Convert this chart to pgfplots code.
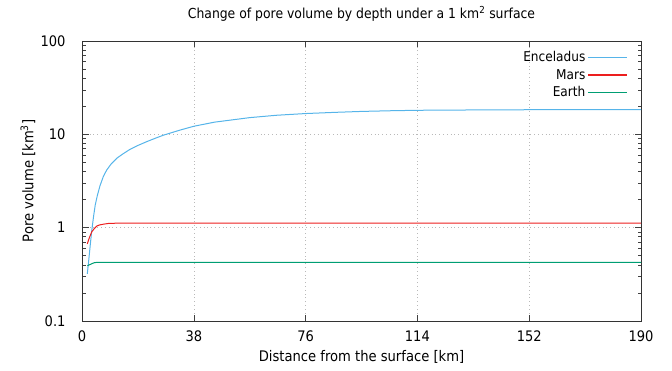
\documentclass[border=0pt]{standalone}
\usepackage{pgfplots}
\pgfplotsset{compat=1.18}
\usepackage{fontspec}
\setmainfont{DejaVu Sans Condensed}
\definecolor{cEnc}{RGB}{86,180,233}
\definecolor{cMars}{RGB}{236,30,30}
\definecolor{cEarth}{RGB}{0,158,115}
\begin{document}
\fontsize{13bp}{15bp}\selectfont
\begin{tikzpicture}
\useasboundingbox (0,0) rectangle (672bp,371bp);
\begin{axis}[
  at={(82bp,50bp)}, anchor=south west,
  scale only axis, width=559bp, height=280bp,
  ymode=log, xmin=0, xmax=190, ymin=0.1, ymax=100,
  xtick={0,38,76,114,152,190},
  ytick={0.1,1,10,100},
  yticklabels={0.1,1,10,100},
  /pgf/number format/assume math mode=true,
  major tick length=6.5bp, minor tick length=3.5bp,
  tick style={black!75, line width=0.6bp},
  axis line style={black!80, line width=0.8bp},
  grid=major,
  major grid style={gray!55, line width=0.6bp, dash pattern=on 0.8bp off 3bp},
  tick label style={font=\fontsize{14.5bp}{16bp}\selectfont},
  label style={font=\fontsize{14.6bp}{17bp}\selectfont},
  xticklabel style={yshift=-5bp},
  yticklabel style={xshift=-12bp},
  title={Change of pore volume by depth under a 1 km\textsuperscript{2} surface},
  title style={at={(axis description cs:0.5,1.075)}, anchor=center, font=\fontsize{13.8bp}{15bp}\selectfont},
  xlabel={Distance from the surface [km]},
  xlabel style={at={(axis description cs:0.5,-0.1286)}, anchor=center},
  ylabel={Pore volume [km\textsuperscript{3}]},
  ylabel style={at={(axis description cs:-0.0966,0.5)}, anchor=center},
  legend cell align=right,
  legend plot pos=right,
  legend style={draw=none, fill=none, inner xsep=0pt, inner ysep=0pt,
    at={(axis description cs:0.9767,0.97)}, anchor=north east,
    row sep=1.5bp, font=\fontsize{13.5bp}{15bp}\selectfont},
  legend image code/.code={\draw[#1] (2bp,0bp) -- (41bp,0bp);},
]
\addlegendimage{cEnc, line width=1.4bp}
\addlegendentry{Enceladus}
\addlegendimage{cMars, line width=1.4bp}
\addlegendentry{Mars}
\addlegendimage{cEarth, line width=1.4bp}
\addlegendentry{Earth}
\addplot[cEnc, line width=1bp, forget plot] coordinates {
(1.8,0.32) (2.3,0.45) (2.8,0.65) (3.3,0.92) (3.9,1.3) (4.5,1.75) (5.2,2.2) (6.1,2.8)
(7.2,3.5) (8.4,4.15) (10,4.85) (12,5.6) (14,6.2) (16.3,6.9) (19,7.6) (22,8.35)
(25,9.1) (27.7,9.8) (33.3,11.1) (38,12.2) (45,13.5) (57,15.1) (66,16.0) (76,16.7)
(86,17.2) (95,17.6) (105,17.9) (114,18.1) (133,18.25) (152,18.35) (171,18.4) (190,18.45)
};
\addplot[cMars, line width=1bp, forget plot] coordinates {
(1.8,0.67) (2.5,0.78) (3.3,0.9) (4.2,0.98) (5,1.04) (6,1.07) (7.3,1.09) (9,1.11)
(11,1.115) (15,1.12) (190,1.12)
};
\addplot[cEarth, line width=1bp, forget plot] coordinates {
(1.8,0.39) (2.5,0.40) (3.3,0.41) (4.0,0.42) (5,0.425) (190,0.425)
};
\end{axis}
\end{tikzpicture}
\end{document}
